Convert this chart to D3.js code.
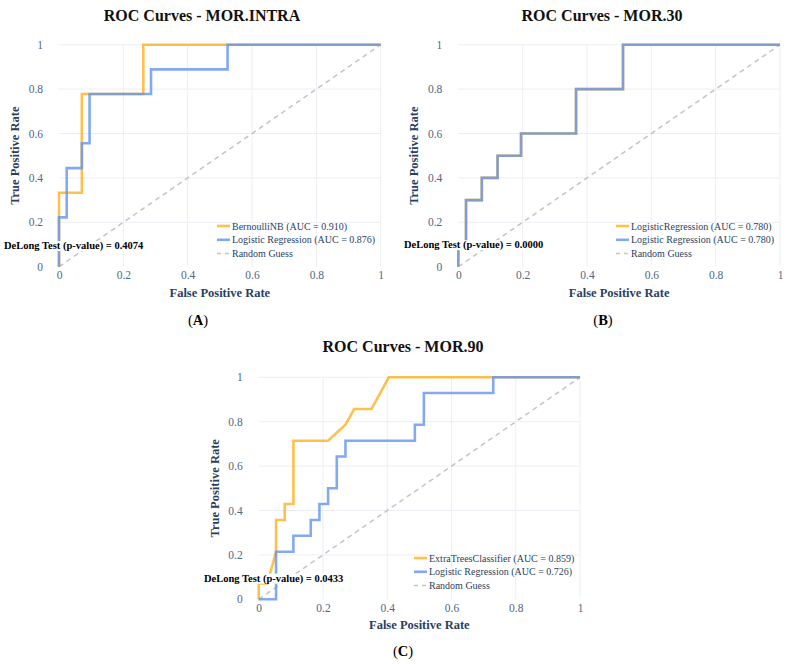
<!DOCTYPE html>
<html>
<head>
<meta charset="utf-8">
<script src="https://cdn.jsdelivr.net/npm/d3@7"></script>
<style>
  html, body { margin: 0; padding: 0; background: #fff; }
  svg { display: block; }
  svg text { font-family: "Liberation Serif", "Times New Roman", Times, "DejaVu Serif", serif; }
</style>
</head>
<body>
<svg id="chart" width="788" height="664"></svg>
<script>
// ---------- DATA ----------
const axisTicks = [0, 0.2, 0.4, 0.6, 0.8, 1];

// Panel A: MOR.INTRA
const titleA = "ROC Curves - MOR.INTRA";
const nameA1 = "BernoulliNB (AUC = 0.910)";
const fprA1 = [0, 0, 0.071, 0.071, 0.262, 0.262, 1];
const tprA1 = [0, 0.333, 0.333, 0.778, 0.778, 1, 1];
const nameA2 = "Logistic Regression (AUC = 0.876)";
const fprA2 = [0, 0, 0.024, 0.024, 0.071, 0.071, 0.095, 0.095, 0.286, 0.286, 0.524, 0.524, 1];
const tprA2 = [0, 0.222, 0.222, 0.444, 0.444, 0.556, 0.556, 0.778, 0.778, 0.889, 0.889, 1, 1];
const pvalA = "DeLong Test (p-value) = 0.4074";

// Panel B: MOR.30
const titleB = "ROC Curves - MOR.30";
const nameB1 = "LogisticRegression (AUC = 0.780)";
const fprB1 = [0, 0, 0.024, 0.024, 0.073, 0.073, 0.122, 0.122, 0.195, 0.195, 0.366, 0.366, 0.512, 0.512, 1];
const tprB1 = [0, 0.1, 0.1, 0.3, 0.3, 0.4, 0.4, 0.5, 0.5, 0.6, 0.6, 0.8, 0.8, 1, 1];
const nameB2 = "Logistic Regression (AUC = 0.780)";
const fprB2 = [0, 0, 0.024, 0.024, 0.073, 0.073, 0.122, 0.122, 0.195, 0.195, 0.366, 0.366, 0.512, 0.512, 1];
const tprB2 = [0, 0.1, 0.1, 0.3, 0.3, 0.4, 0.4, 0.5, 0.5, 0.6, 0.6, 0.8, 0.8, 1, 1];
const pvalB = "DeLong Test (p-value) = 0.0000";

// Panel C: MOR.90
const titleC = "ROC Curves - MOR.90";
const nameC1 = "ExtraTreesClassifier (AUC = 0.859)";
const fprC1 = [0, 0, 0.027, 0.054, 0.054, 0.081, 0.081, 0.108, 0.108, 0.216, 0.270, 0.297, 0.351, 0.405, 1];
const tprC1 = [0, 0.071, 0.071, 0.214, 0.357, 0.357, 0.429, 0.429, 0.714, 0.714, 0.786, 0.857, 0.857, 1, 1];
const nameC2 = "Logistic Regression (AUC = 0.726)";
const fprC2 = [0, 0.054, 0.054, 0.108, 0.108, 0.162, 0.162, 0.189, 0.189, 0.216, 0.216, 0.243, 0.243, 0.270, 0.270, 0.486, 0.486, 0.514, 0.514, 0.730, 0.730, 1];
const tprC2 = [0, 0, 0.214, 0.214, 0.286, 0.286, 0.357, 0.357, 0.429, 0.429, 0.5, 0.5, 0.643, 0.643, 0.714, 0.714, 0.786, 0.786, 0.929, 0.929, 1, 1];
const pvalC = "DeLong Test (p-value) = 0.0433";

const randomName = "Random Guess";
const randomFpr = [0, 1];
const randomTpr = [0, 1];

// ---------- STYLE ----------
const SERIF = '"Liberation Serif", "Times New Roman", Times, "DejaVu Serif", serif';
const C_ORANGE = "rgba(255,165,0,0.7)";
const C_BLUE = "rgba(100,149,237,0.8)";
const C_GRAY = "#c4c4c4";
const C_TEXT = "#2a3f5f";
const C_TICK = "#506784";
const C_GRID = "#ebeef4";

const svg = d3.select("#chart");

function zip(xs, ys) { return xs.map((x, i) => [x, ys[i]]); }

function panel(cfg) {
  const x = d3.scaleLinear().domain([0, 1]).range([cfg.x0, cfg.x1]);
  const y = d3.scaleLinear().domain([0, 1]).range([cfg.y0, cfg.y1]);
  const g = svg.append("g");

  // grid
  g.append("g").selectAll("line").data(axisTicks.filter(d => d > 0)).join("line")
    .attr("x1", d => x(d)).attr("x2", d => x(d))
    .attr("y1", y(0)).attr("y2", y(1))
    .attr("stroke", C_GRID).attr("stroke-width", 1);
  g.append("g").selectAll("line").data(axisTicks.filter(d => d > 0)).join("line")
    .attr("y1", d => y(d)).attr("y2", d => y(d))
    .attr("x1", x(0)).attr("x2", x(1))
    .attr("stroke", C_GRID).attr("stroke-width", 1);

  const fmt = d3.format("~g");
  const xa = g.append("g").attr("transform", `translate(0,${y(0)})`)
    .call(d3.axisBottom(x).tickValues(axisTicks).tickFormat(fmt).tickSize(0).tickPadding(4.5));
  const ya = g.append("g").attr("transform", `translate(${x(0)},0)`)
    .call(d3.axisLeft(y).tickValues(axisTicks).tickFormat(fmt).tickSize(0).tickPadding(16));
  [xa, ya].forEach(a => {
    a.select(".domain").remove();
    a.selectAll("text").attr("fill", C_TICK).attr("font-family", null)
      .style("font-family", SERIF).style("font-size", "11.5px");
  });

  const line = d3.line().x(d => x(d[0])).y(d => y(d[1]));

  g.append("path").datum(zip(randomFpr, randomTpr)).attr("d", line)
    .attr("fill", "none").attr("stroke", C_GRAY).attr("stroke-width", 1.5)
    .attr("stroke-dasharray", "5,4");
  g.append("path").datum(zip(cfg.f1, cfg.t1)).attr("d", line)
    .attr("fill", "none").attr("stroke", C_ORANGE).attr("stroke-width", 2.6);
  g.append("path").datum(zip(cfg.f2, cfg.t2)).attr("d", line)
    .attr("fill", "none").attr("stroke", C_BLUE).attr("stroke-width", 2.6);

  g.append("text").attr("x", cfg.tx).attr("y", cfg.ty).attr("text-anchor", "middle")
    .style("font-family", SERIF).style("font-size", "16px").style("font-weight", "bold")
    .attr("fill", "#111").text(cfg.title);
  g.append("text").attr("x", (cfg.x0 + cfg.x1) / 2).attr("y", cfg.y0 + 30).attr("text-anchor", "middle")
    .style("font-family", SERIF).style("font-size", "12.5px").style("font-weight", "bold")
    .attr("fill", C_TEXT).text("False Positive Rate");
  g.append("text").attr("transform", `translate(${cfg.x0 - 40},${(cfg.y0 + cfg.y1) / 2}) rotate(-90)`)
    .attr("text-anchor", "middle")
    .style("font-family", SERIF).style("font-size", "12.5px").style("font-weight", "bold")
    .attr("fill", C_TEXT).text("True Positive Rate");

  const items = [
    { name: cfg.n1, color: C_ORANGE, dash: null },
    { name: cfg.n2, color: C_BLUE, dash: null },
    { name: randomName, color: C_GRAY, dash: "4,4" }
  ];
  const lg = g.append("g").attr("transform", `translate(${cfg.lx},${cfg.ly})`);
  items.forEach((it, i) => {
    const r = lg.append("g").attr("transform", `translate(0,${i * 13.8})`);
    r.append("line").attr("x1", 0).attr("x2", 13).attr("y1", 0).attr("y2", 0)
      .attr("stroke", it.color).attr("stroke-width", it.dash ? 1.5 : 2.6)
      .attr("stroke-dasharray", it.dash);
    r.append("text").attr("x", 15).attr("y", 0).attr("dy", "0.35em")
      .style("font-family", SERIF).style("font-size", "10px")
      .attr("fill", C_TEXT).text(it.name);
  });

  const ann = g.append("g");
  const at = ann.append("text").attr("x", cfg.ax).attr("y", cfg.ay).attr("dy", "0.35em")
    .style("font-family", SERIF).style("font-size", "10.5px").style("font-weight", "bold")
    .attr("fill", "#000").text(cfg.pval);
  const bb = at.node().getBBox();
  ann.insert("rect", "text").attr("x", bb.x - 1).attr("y", bb.y + 1).attr("width", bb.width + 2).attr("height", bb.height - 2)
    .attr("fill", "#fff");

  const pl = svg.append("text").attr("x", cfg.px).attr("y", cfg.py).attr("text-anchor", "middle")
    .style("font-family", SERIF).style("font-size", "14.5px").attr("fill", "#000");
  pl.append("tspan").text("(");
  pl.append("tspan").style("font-weight", "bold").text(cfg.label);
  pl.append("tspan").text(")");
}

panel({ x0: 59, x1: 380.7, y0: 266.7, y1: 44.7, title: titleA, tx: 202, ty: 21,
  f1: fprA1, t1: tprA1, f2: fprA2, t2: tprA2, n1: nameA1, n2: nameA2, pval: pvalA,
  lx: 217, ly: 226, ax: 4, ay: 245.5, label: "A", px: 198, py: 325 });
panel({ x0: 458.3, x1: 780, y0: 266.7, y1: 44.7, title: titleB, tx: 602, ty: 21,
  f1: fprB1, t1: tprB1, f2: fprB2, t2: tprB2, n1: nameB1, n2: nameB2, pval: pvalB,
  lx: 616, ly: 226, ax: 404, ay: 244.5, label: "B", px: 603, py: 325 });
panel({ x0: 258.7, x1: 580, y0: 599.3, y1: 377.3, title: titleC, tx: 403, ty: 352,
  f1: fprC1, t1: tprC1, f2: fprC2, t2: tprC2, n1: nameC1, n2: nameC2, pval: pvalC,
  lx: 414, ly: 558, ax: 204, ay: 578, label: "C", px: 403, py: 656 });
</script>
</body>
</html>
